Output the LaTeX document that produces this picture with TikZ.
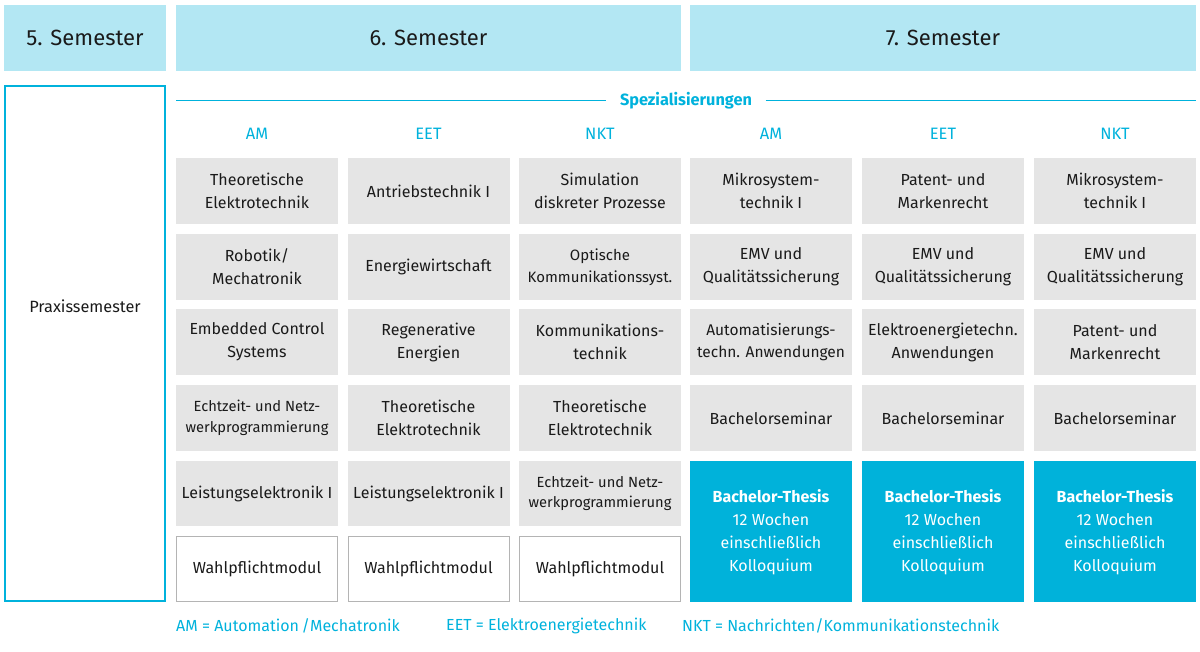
\documentclass[tikz,border=0pt]{standalone}
\usepackage{fontspec}
\setmainfont{Fira Sans}
\definecolor{hdr}{RGB}{179,231,243}
\definecolor{cy}{RGB}{0,178,220}
\definecolor{thesisfill}{RGB}{0,178,218}
\definecolor{cellgray}{RGB}{229,229,229}
\definecolor{wpborder}{RGB}{180,180,180}
\definecolor{txt}{RGB}{26,26,26}
\tikzset{
  hdrbox/.style={fill=hdr,draw=none,minimum height=66pt,inner sep=0pt,text=txt,font=\fontsize{22}{26}\selectfont},
  cell/.style={fill=cellgray,draw=none,minimum width=162pt,minimum height=65.5pt,inner sep=0pt,align=center,text=txt,font=\fontsize{16}{23}\selectfont},
  smallcell/.style={cell,font=\fontsize{14.7}{20.5}\selectfont},
  wpbox/.style={fill=white,draw=wpborder,line width=1pt,minimum width=161pt,minimum height=64.5pt,inner sep=0pt,align=center,text=txt,font=\fontsize{16}{23}\selectfont},
  thesis/.style={fill=thesisfill,draw=none,minimum width=162pt,minimum height=141pt,inner sep=0pt,align=center,text=white,font=\fontsize{16}{23}\selectfont},
  collabel/.style={text=cy,font=\fontsize{16.5}{19}\selectfont,inner sep=0pt},
  legend/.style={text=cy,font=\fontsize{16}{19}\selectfont,inner sep=0pt,anchor=west},
  cyline/.style={draw=cy,line width=1.3pt}
}
\begin{document}
\begin{tikzpicture}[x=1pt,y=-1pt]
\useasboundingbox (0,0) rectangle (1200,651);
% headers
\node[hdrbox,minimum width=162pt] (h5) at (85,38) {5. Semester};
\node[hdrbox,minimum width=505pt] (h6) at (428.5,38) {6. Semester};
\node[hdrbox,minimum width=506pt] (h7) at (943,38) {7. Semester};
% Praxissemester
\node[draw=cy,line width=1.5pt,minimum width=160pt,minimum height=515pt,inner sep=0pt] (praxis) at (85,343.5) {};
\node[text=txt,font=\fontsize{16.3}{19}\selectfont,inner sep=0pt] (praxislabel) at (85,306) {Praxissemester};
% Spezialisierungen
\node[text=cy,font=\fontsize{16.3}{19}\selectfont\bfseries,inner sep=0pt,minimum width=159pt] (spez) at (686,100.5) {Spezialisierungen};
\coordinate (sl) at (176,100.5);
\coordinate (sr) at (1196,100.5);
\draw[cyline] (sl) -- (spez.west);
\draw[cyline] (spez.east) -- (sr);
% column labels
\node[collabel] (l1) at (257,133.5) {AM};
\node[collabel] (l2) at (428.5,133.5) {EET};
\node[collabel] (l3) at (600,133.5) {NKT};
\node[collabel] (l4) at (771,133.5) {AM};
\node[collabel] (l5) at (943,133.5) {EET};
\node[collabel] (l6) at (1115,133.5) {NKT};
% row 1
\node[cell] (c11) at (257,191) {Theoretische\\Elektrotechnik};
\node[cell] (c12) at (428.5,191) {Antriebstechnik I};
\node[cell] (c13) at (600,191) {Simulation\\diskreter Prozesse};
\node[cell] (c14) at (771,191) {Mikrosystem-\\technik I};
\node[cell] (c15) at (943,191) {Patent- und\\Markenrecht};
\node[cell] (c16) at (1115,191) {Mikrosystem-\\technik I};
% row 2
\node[cell] (c21) at (257,267) {Robotik/\\Mechatronik};
\node[cell] (c22) at (428.5,267) {Energiewirtschaft};
\node[cell,font=\fontsize{15}{22}\selectfont] (c23) at (600,267) {Optische\\Kommunikationssyst.};
\node[cell] (c24) at (771,267) {EMV und\\Qualitätssicherung};
\node[cell] (c25) at (943,267) {EMV und\\Qualitätssicherung};
\node[cell] (c26) at (1115,267) {EMV und\\Qualitätssicherung};
% row 3
\node[cell] (c31) at (257,342) {Embedded Control\\Systems};
\node[cell] (c32) at (428.5,342) {Regenerative\\Energien};
\node[cell] (c33) at (600,342) {Kommunikations-\\technik};
\node[cell,font=\fontsize{15.5}{22}\selectfont] (c34) at (771,342) {Automatisierungs-\\techn. Anwendungen};
\node[cell] (c35) at (943,342) {Elektroenergietechn.\\Anwendungen};
\node[cell] (c36) at (1115,342) {Patent- und\\Markenrecht};
% row 4
\node[smallcell] (c41) at (257,418) {Echtzeit- und Netz-\\werkprogrammierung};
\node[cell] (c42) at (428.5,418) {Theoretische\\Elektrotechnik};
\node[cell] (c43) at (600,418) {Theoretische\\Elektrotechnik};
\node[cell] (c44) at (771,418) {Bachelorseminar};
\node[cell] (c45) at (943,418) {Bachelorseminar};
\node[cell] (c46) at (1115,418) {Bachelorseminar};
% row 5
\node[cell] (c51) at (257,493.5) {Leistungselektronik I};
\node[cell] (c52) at (428.5,493.5) {Leistungselektronik I};
\node[smallcell] (c53) at (600,493.5) {Echtzeit- und Netz-\\werkprogrammierung};
% row 6
\node[wpbox] (c61) at (257,569) {Wahlpflichtmodul};
\node[wpbox] (c62) at (428.5,569) {Wahlpflichtmodul};
\node[wpbox] (c63) at (600,569) {Wahlpflichtmodul};
% thesis
\node[thesis] (t4) at (771,531) {\rule{0pt}{16pt}\textbf{Bachelor-Thesis}\\12 Wochen\\einschließlich\\Kolloquium};
\node[thesis] (t5) at (943,531) {\rule{0pt}{16pt}\textbf{Bachelor-Thesis}\\12 Wochen\\einschließlich\\Kolloquium};
\node[thesis] (t6) at (1115,531) {\rule{0pt}{16pt}\textbf{Bachelor-Thesis}\\12 Wochen\\einschließlich\\Kolloquium};
% legend
\node[legend] (lg1) at (176,626) {AM = Automation\,/Mechatronik};
\node[legend] (lg2) at (446,626) {EET = Elektroenergietechnik};
\node[legend] (lg3) at (682,626) {NKT = Nachrichten/Kommunikationstechnik};
\end{tikzpicture}
\end{document}
